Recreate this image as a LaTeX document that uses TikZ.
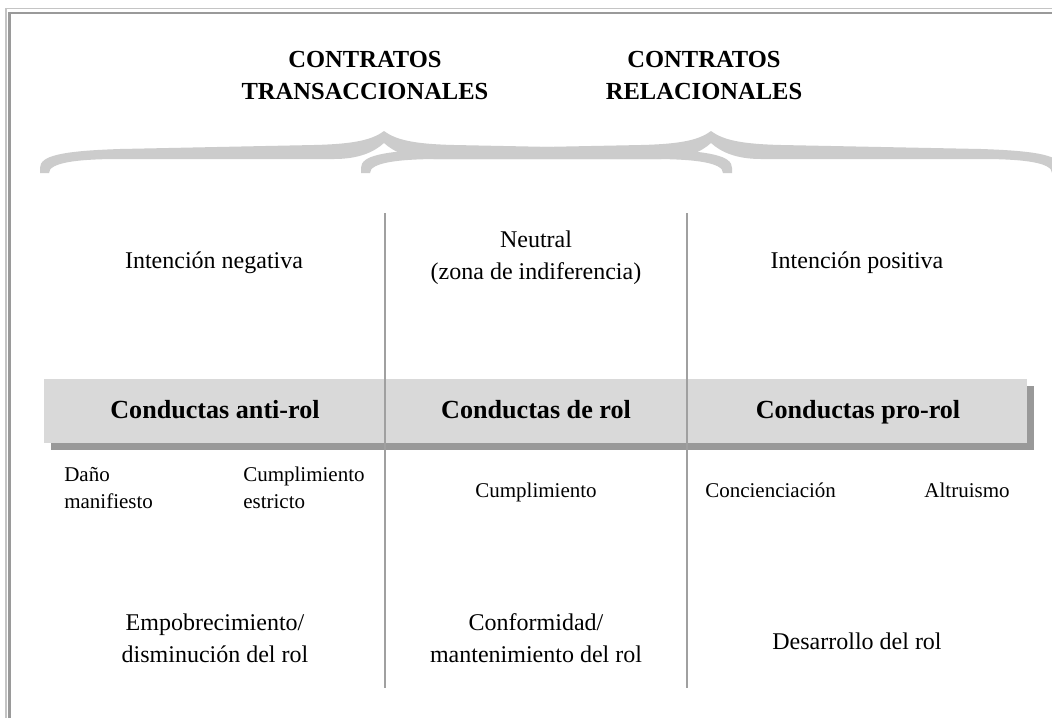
\documentclass[tikz,border=0pt]{standalone}
\usepackage{fontspec}
\setmainfont{Liberation Serif}
\usetikzlibrary{shadows}
\definecolor{bracegray}{HTML}{CCCCCC}
\definecolor{barfill}{HTML}{D9D9D9}
\definecolor{barshadow}{HTML}{999999}
\definecolor{divgray}{HTML}{A0A0A0}
\definecolor{frameouter}{HTML}{C4C4C4}
\definecolor{frameinner}{HTML}{9A9A9A}
\newcommand\grayBrace[3]{%
 \fill[bracegray] (#1,173) -- (#1,168)
  .. controls (#1,156) and ({#1+20},151) .. ({#1+80},149)
  -- ({#2-70},145)
  .. controls ({#2-30},144) and ({#2-12},140) .. (#2,131)
  .. controls ({#2+12},140) and ({#2+30},144) .. ({#2+70},145)
  -- ({#3-80},149)
  .. controls ({#3-20},151) and (#3,156) .. (#3,168)
  -- (#3,173) -- ({#3-9},173)
  .. controls ({#3-9},163) and ({#3-35},159) .. ({#3-80},159)
  -- ({#2+50},159)
  .. controls ({#2+25},159) and ({#2+10},152) .. (#2,143)
  .. controls ({#2-10},152) and ({#2-25},159) .. ({#2-50},159)
  -- ({#1+80},159)
  .. controls ({#1+35},159) and ({#1+9},163) .. ({#1+9},173) -- cycle;}
\tikzset{
 struts/.style={execute at begin node=\strut, execute at end node=\strut},
 headtext/.style={font=\fontsize{18.4pt}{24pt}\selectfont\bfseries, align=center, inner sep=0pt, struts},
 bigtext/.style={font=\fontsize{18pt}{24pt}\selectfont, align=center, inner sep=0pt, struts},
 bartext/.style={font=\fontsize{19.6pt}{24pt}\selectfont\bfseries, inner sep=0pt, struts},
 smalltext/.style={font=\fontsize{15.75pt}{20pt}\selectfont, align=left, inner sep=0pt, struts},
 barbox/.style={fill=barfill, inner sep=0pt, minimum width=737.25pt, minimum height=48pt,
   drop shadow={shadow xshift=5.25pt, shadow yshift=-5.25pt, fill=barshadow, opacity=1}},
 divider/.style={draw=divgray, line width=0.9pt},
}
\begin{document}
\begin{tikzpicture}[x=0.75pt, y=-0.75pt]
\useasboundingbox (0,0) rectangle (1052,718);
\fill[white] (0,0) rectangle (1052,718);
% frame (top and left only)
\draw[frameouter, line width=0.9pt] (6,718) -- (6,8.5) -- (1052,8.5);
\draw[frameinner, line width=1.8pt] (9.5,718) -- (9.5,13) -- (1052,13);
% braces
\grayBrace{40}{384}{732}
\grayBrace{361}{711}{1061}
% headers
\node[headtext] (htrans) at (365,80) {CONTRATOS\\TRANSACCIONALES};
\node[headtext] (hrel) at (704,80) {CONTRATOS\\RELACIONALES};
% bar
\node[barbox] (bar) at (535.5,411) {};
% dividers
\coordinate (d1t) at (385,213); \coordinate (d1b) at (385,688);
\coordinate (d2t) at (687,213); \coordinate (d2b) at (687,688);
\draw[divider] (d1t) -- (d1b);
\draw[divider] (d2t) -- (d2b);
% top row
\node[bigtext] (neg) at (214,262) {Intención negativa};
\node[bigtext] (neu) at (536,260) {Neutral\\(zona de indiferencia)};
\node[bigtext] (pos) at (857,262) {Intención positiva};
% bar labels
\node[bartext] (anti) at (215,412) {Conductas anti-rol};
\node[bartext] (rol) at (536,412) {Conductas de rol};
\node[bartext] (pro) at (858,412) {Conductas pro-rol};
% under bar
\node[smalltext, anchor=west] (dano) at (64,492) {Daño\\manifiesto};
\node[smalltext, anchor=west] (estr) at (243,492) {Cumplimiento\\estricto};
\node[smalltext] (cump) at (536,492) {Cumplimiento};
\node[smalltext, anchor=west] (conc) at (705,492) {Concienciación};
\node[smalltext] (altr) at (967,492) {Altruismo};
% bottom row
\node[bigtext] (empo) at (215,643) {Empobrecimiento/\\disminución del rol};
\node[bigtext] (conf) at (536,643) {Conformidad/\\mantenimiento del rol};
\node[bigtext] (desa) at (857,643) {Desarrollo del rol};
\end{tikzpicture}
\end{document}
